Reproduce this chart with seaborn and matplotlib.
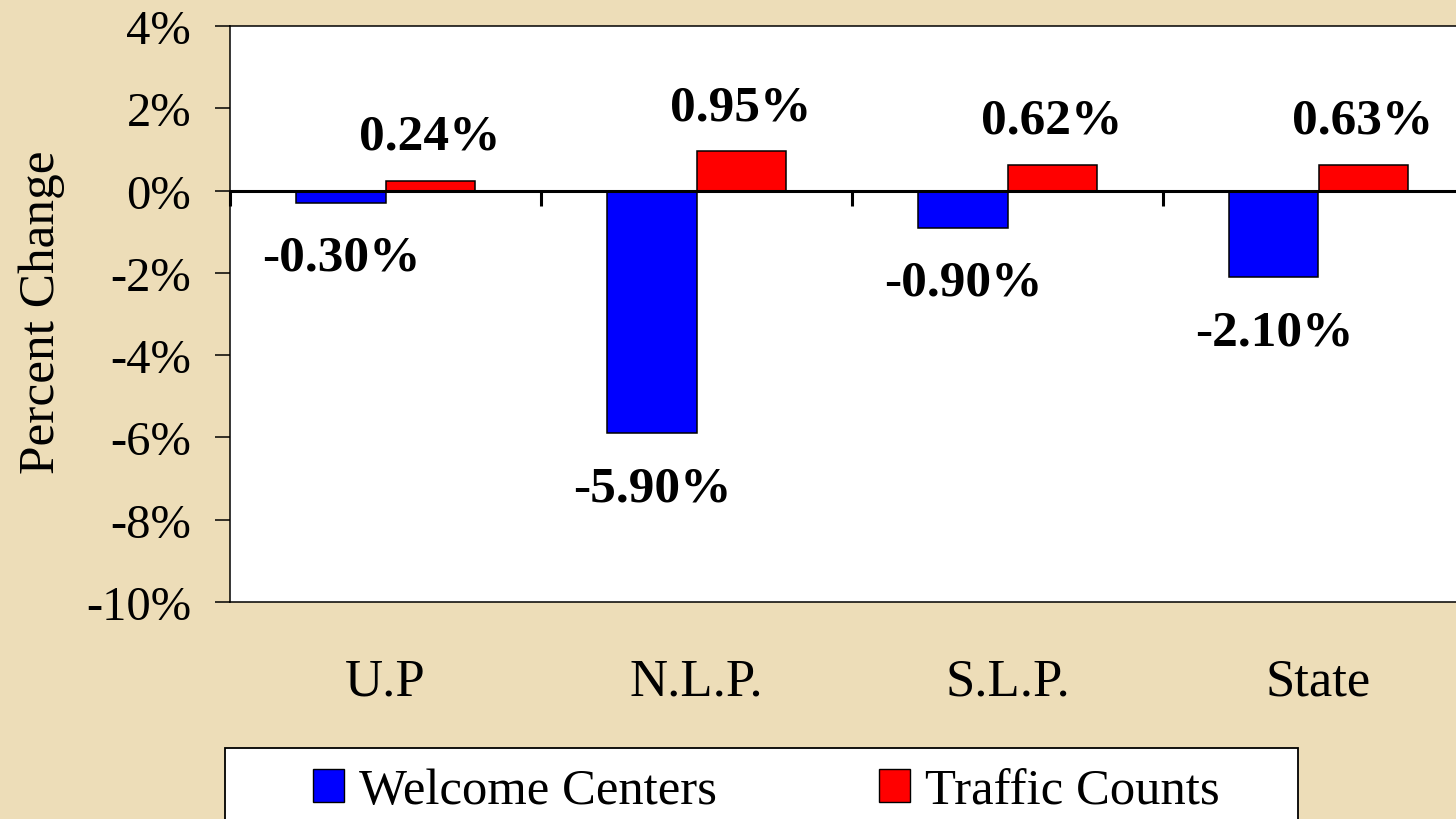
import numpy as np
import pandas as pd
import matplotlib.pyplot as plt
import matplotlib.patches as mpatches
import seaborn as sns

# ----------------------------------------------------------
# Data
# ----------------------------------------------------------
regions = ['U.P', 'N.L.P.', 'S.L.P.', 'State']
series = ['Welcome Centers', 'Traffic Counts']
welcome_centers = [-0.30, -5.90, -0.90, -2.10]
traffic_counts = [0.24, 0.95, 0.62, 0.63]
y_ticks = [-10, -8, -6, -4, -2, 0, 2, 4]

colors = {'Welcome Centers': '#0000FF', 'Traffic Counts': '#FF0000'}

df = pd.DataFrame({
    'region': regions * 2,
    'series': [series[0]] * 4 + [series[1]] * 4,
    'pct': welcome_centers + traffic_counts,
})

# ----------------------------------------------------------
# Style
# ----------------------------------------------------------
sns.set_style('white')
plt.rcParams['font.family'] = ['Liberation Serif', 'DejaVu Serif']
plt.rcParams['text.color'] = 'black'
plt.rcParams['axes.labelcolor'] = 'black'
plt.rcParams['xtick.color'] = 'black'
plt.rcParams['ytick.color'] = 'black'

fig = plt.figure(figsize=(14.56, 8.2), dpi=100)
fig.patch.set_facecolor('#EDDDB8')

W, H = 1456, 820
ax = fig.add_axes([230 / W, 1 - 603 / H, 1244 / W, 576 / H])
ax.set_facecolor('white')

sns.barplot(data=df, x='region', y='pct', hue='series', order=regions,
            hue_order=series, palette=colors, width=0.573, saturation=1,
            edgecolor='black', linewidth=1.1, legend=False, ax=ax)

ax.set_xlim(-0.5, 3.5)
ax.set_ylim(-10, 4)
ax.set_yticks(y_ticks)
ax.set_yticklabels([f'{t}%' for t in y_ticks], fontsize=35)
ax.tick_params(axis='y', direction='out', length=11, width=1.1, pad=17, left=True)
ax.tick_params(axis='x', length=0, pad=40, labelsize=38)
ax.set_xlabel('')
ax.set_ylabel('')

for side in ['left', 'top', 'bottom']:
    ax.spines[side].set_color('black')
    ax.spines[side].set_linewidth(1.1)
ax.spines['right'].set_visible(False)

# zero line with category divider ticks
ax.axhline(0, color='black', lw=2.2, zorder=3)
ax.vlines(np.arange(-0.5, 4, 1), -0.38, 0, color='black', lw=2.2,
          clip_on=False, zorder=3)

# value labels
for bar, v in zip(ax.containers[0], welcome_centers):
    ax.text(bar.get_x() + bar.get_width() / 2, v - 1.63, f'{v:.2f}%',
            ha='center', va='baseline', fontsize=37, fontweight='bold')
for bar, v in zip(ax.containers[1], traffic_counts):
    ax.text(bar.get_x() + bar.get_width() / 2, v + 0.78, f'{v:.2f}%',
            ha='center', va='baseline', fontsize=37, fontweight='bold')

fig.text(42 / W, 1 - 312 / H, 'Percent Change', rotation=90,
         ha='center', va='center', fontsize=37)

# ----------------------------------------------------------
# Legend (box partly cut off at the bottom)
# ----------------------------------------------------------
box = mpatches.Rectangle((225 / W, -0.05), (1298 - 225) / W, (1 - 749 / H) + 0.05,
                         transform=fig.transFigure, facecolor='white',
                         edgecolor='black', lw=1.3)
fig.patches.append(box)
handles = [mpatches.Patch(facecolor=colors[s], edgecolor='black', lw=1.0, label=s)
           for s in series]
fig.legend(handles=handles, loc='upper left', bbox_to_anchor=(313 / W, 1 - 769 / H),
           ncol=2, frameon=False, fontsize=36.5, handlelength=0.61, handleheight=0.61,
           handletextpad=0.3, columnspacing=3.2, borderpad=0, borderaxespad=0)

fig.savefig('out.png', dpi=100, facecolor=fig.get_facecolor())
